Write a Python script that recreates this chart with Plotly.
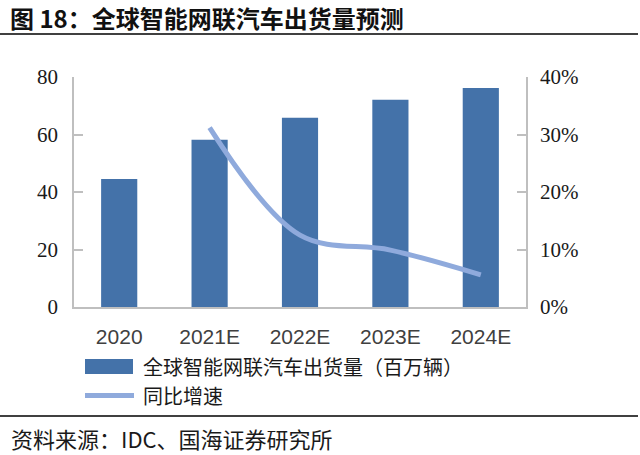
import plotly.graph_objects as go

categories = ["2020", "2021E", "2022E", "2023E", "2024E"]
shipments = [44.5, 58.2, 65.8, 72.1, 76.2]
growth = [None, 0.312, 0.125, 0.099, 0.056]
bar_name = "全球智能网联汽车出货量（百万辆）"
line_name = "同比增速"
title_text = "图 18：全球智能网联汽车出货量预测"
source_text = "资料来源：IDC、国海证券研究所"

W, H = 640, 455
L, R, T, B = 74, 114, 77, 148
pw, ph = W - L - R, H - T - B
BAR_C = "#4472A9"
LINE_C = "#8FAADC"

def px(x):
    return (x - L) / pw

def py(y):
    return (H - B - y) / ph

CJK = "Noto Sans CJK SC"
AX = "#BFBFBF"

fig = go.Figure()
fig.add_trace(go.Bar(x=categories, y=shipments, name=bar_name,
                     marker=dict(color=BAR_C, line=dict(width=0)), yaxis="y"))
fig.add_trace(go.Scatter(x=categories, y=growth, name=line_name, mode="lines",
                         line=dict(color=LINE_C, width=5, shape="spline", smoothing=1),
                         yaxis="y2"))

fig.update_layout(
    width=W, height=H,
    margin=dict(l=L, r=R, t=T, b=B),
    paper_bgcolor="white", plot_bgcolor="white",
    bargap=0.6,
    showlegend=False,
    xaxis=dict(showline=True, linecolor=AX, linewidth=1.5, ticks="",
               tickfont=dict(family="Liberation Sans", size=21, color="#404040"),
               ticklabelstandoff=10, showgrid=False, zeroline=False),
    yaxis=dict(range=[0, 80], dtick=20, showline=True, linecolor=AX, linewidth=1.5,
               ticks="inside", ticklen=9, tickcolor=AX, tickwidth=1.5,
               tickfont=dict(family="Liberation Serif", size=21, color="#1a1a1a"),
               ticklabelstandoff=10, showgrid=False, zeroline=False),
    yaxis2=dict(range=[0, 0.4], dtick=0.1, tickformat=".0%", overlaying="y", side="right",
                showline=True, linecolor=AX, linewidth=1.5,
                ticks="inside", ticklen=9, tickcolor=AX, tickwidth=1.5,
                tickfont=dict(family="Liberation Serif", size=21, color="#1a1a1a"),
                ticklabelstandoff=8, showgrid=False, zeroline=False),
    shapes=[
        dict(type="line", xref="paper", yref="paper", x0=px(0), x1=px(638), y0=py(34), y1=py(34),
             line=dict(color="#404040", width=2)),
        dict(type="line", xref="paper", yref="paper", x0=px(0), x1=px(638), y0=py(416), y1=py(416),
             line=dict(color="#404040", width=2)),
        # legend swatches
        dict(type="rect", xref="paper", yref="paper", x0=px(85), x1=px(133), y0=py(374), y1=py(359),
             fillcolor=BAR_C, line=dict(width=0)),
        dict(type="line", xref="paper", yref="paper", x0=px(85), x1=px(134), y0=py(395.5), y1=py(395.5),
             line=dict(color=LINE_C, width=5)),
    ],
    annotations=[
        dict(text="<b>" + title_text + "</b>", xref="paper", yref="paper", x=px(8), y=py(18),
             xanchor="left", yanchor="middle", showarrow=False,
             font=dict(family=CJK, size=24, color="#111111")),
        dict(text=source_text, xref="paper", yref="paper", x=px(9), y=py(438),
             xanchor="left", yanchor="middle", showarrow=False,
             font=dict(family=CJK, size=22, color="#1a1a1a")),
        dict(text=bar_name, xref="paper", yref="paper", x=px(141), y=py(366.5),
             xanchor="left", yanchor="middle", showarrow=False,
             font=dict(family=CJK, size=20, color="#1a1a1a")),
        dict(text=line_name, xref="paper", yref="paper", x=px(141), y=py(395.5),
             xanchor="left", yanchor="middle", showarrow=False,
             font=dict(family=CJK, size=20, color="#1a1a1a")),
    ],
)

fig.write_html("out.html",
               config={"displayModeBar": False},
               post_script="document.body.style.margin='0';document.body.style.overflow='hidden';")
